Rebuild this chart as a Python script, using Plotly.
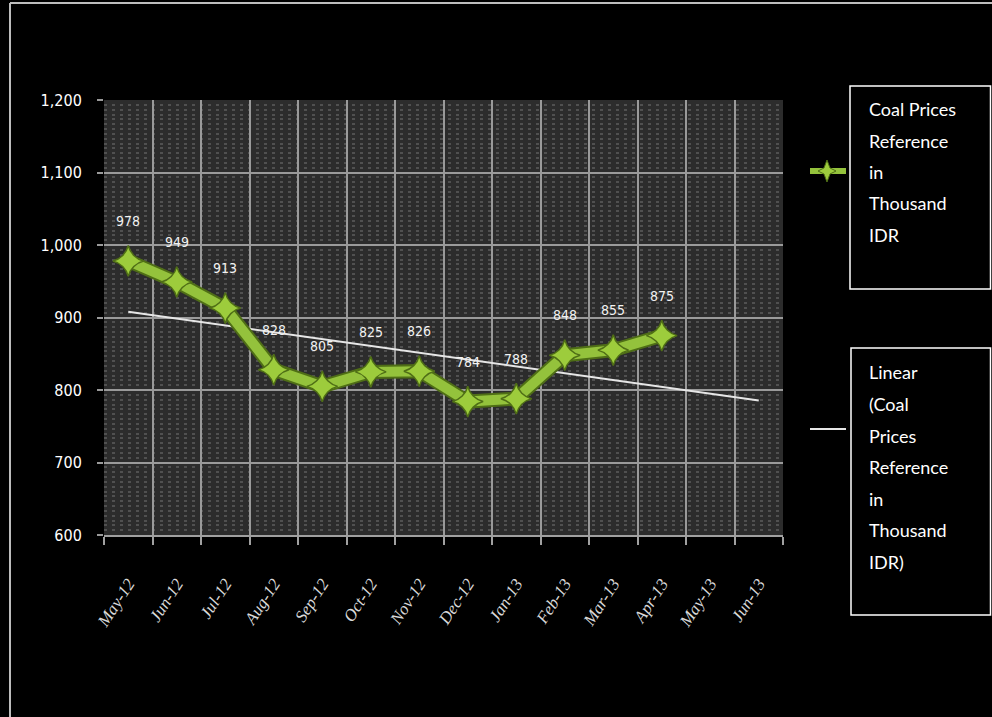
import numpy as np
import plotly.graph_objects as go

months = ["May-12", "Jun-12", "Jul-12", "Aug-12", "Sep-12", "Oct-12", "Nov-12",
          "Dec-12", "Jan-13", "Feb-13", "Mar-13", "Apr-13", "May-13", "Jun-13"]
prices = [978, 949, 913, 828, 805, 825, 826, 784, 788, 848, 855, 875]
y_ticks = [600, 700, 800, 900, 1000, 1100, 1200]
series_name = "Coal Prices Reference in Thousand IDR"
trend_name = "Linear (Coal Prices Reference in Thousand IDR)"

# Excel-style linear trendline, forecast forward 2 periods
idx = np.arange(len(prices))
slope, intercept = np.polyfit(idx, prices, 1)
trend_idx = np.arange(len(months))
trend_vals = slope * trend_idx + intercept

# plot area in pixels
W, H = 992, 717
PL, PR, PT, PB = 104, 783, 100, 535

NARROW = "DejaVu Sans Condensed, Liberation Sans, sans-serif"


def px(x):
    return (x - PL) / (PR - PL)


def py(y):
    return (PB - y) / (PB - PT)


fig = go.Figure()

fig.add_trace(go.Scatter(
    x=months, y=list(trend_vals), mode="lines", name=trend_name,
    line=dict(color="#e6e6e6", width=2), showlegend=False, hoverinfo="skip"))

fig.add_trace(go.Scatter(
    x=months[:len(prices)], y=prices, mode="lines", name=series_name,
    line=dict(color="#4f6e16", width=14), showlegend=False, hoverinfo="skip"))

fig.add_trace(go.Scatter(
    x=months[:len(prices)], y=prices, mode="lines+markers", name=series_name,
    line=dict(color="#94c23c", width=10),
    marker=dict(symbol="star-diamond", size=22, color="#9dcc3c",
                line=dict(color="#4f6e16", width=1.5)),
    showlegend=False))

annotations = []
for m, v in zip(months, prices):
    annotations.append(dict(
        x=m, y=v, xref="x", yref="y", text=f"{v}", showarrow=False,
        yshift=40, font=dict(family=NARROW, size=14, color="#f2f2f2")))

leg1 = ["Coal Prices", "Reference", "in", "Thousand", "IDR"]
leg1_y = [109, 141, 172, 203, 235]
leg2 = ["Linear", "(Coal", "Prices", "Reference", "in", "Thousand", "IDR)"]
leg2_y = [372, 404, 436, 467, 499, 530, 562]
for t, yy in list(zip(leg1, leg1_y)) + list(zip(leg2, leg2_y)):
    annotations.append(dict(
        x=px(867), y=py(yy), xref="paper", yref="paper", text=t, showarrow=False,
        xanchor="left", yanchor="middle",
        font=dict(family="Lato", size=18, color="#ffffff")))

shapes = [
    # outer frame
    dict(type="line", xref="paper", yref="paper", x0=px(10), x1=px(992), y0=py(3), y1=py(3),
         line=dict(color="#bdbdbd", width=2)),
    dict(type="line", xref="paper", yref="paper", x0=px(10), x1=px(10), y0=py(3), y1=py(717),
         line=dict(color="#bdbdbd", width=2)),
    # legend boxes
    dict(type="rect", xref="paper", yref="paper", x0=px(850), x1=px(990.5), y0=py(86), y1=py(289),
         line=dict(color="#ffffff", width=1.5), fillcolor="#000000"),
    dict(type="rect", xref="paper", yref="paper", x0=px(851), x1=px(990.5), y0=py(348), y1=py(615),
         line=dict(color="#ffffff", width=1.5), fillcolor="#000000"),
    # legend key: series
    dict(type="line", xref="paper", yref="paper", x0=px(810), x1=px(846), y0=py(171), y1=py(171),
         line=dict(color="#94c23c", width=6)),
    dict(type="line", xref="paper", yref="paper", x0=px(810), x1=px(846), y0=py(429), y1=py(429),
         line=dict(color="#e6e6e6", width=2)),
]
# star-diamond key marker
cx, cy = 827, 171
pts = [(cx, cy - 11), (cx + 3, cy - 3), (cx + 9, cy), (cx + 3, cy + 3), (cx, cy + 11),
       (cx - 3, cy + 3), (cx - 9, cy), (cx - 3, cy - 3)]
path = "M " + " L ".join(f"{px(a):.5f},{py(b):.5f}" for a, b in pts) + " Z"
shapes.append(dict(type="path", xref="paper", yref="paper", path=path,
                   fillcolor="#9dcc3c", line=dict(color="#4f6e16", width=1)))

fig.update_layout(
    width=W, height=H,
    margin=dict(l=PL, r=W - PR, t=PT, b=H - PB, pad=0),
    paper_bgcolor="#000000",
    plot_bgcolor="#2c2c2c",
    showlegend=False,
    annotations=annotations,
    shapes=shapes,
    xaxis=dict(
        type="category", categoryorder="array", categoryarray=months,
        range=[-0.5, len(months) - 0.5],
        tickson="boundaries", ticks="outside", ticklen=8, tickcolor="#a0a0a0", tickwidth=2,
        showgrid=True, gridcolor="#9a9a9a", gridwidth=2,
        showline=True, linecolor="#a0a0a0", linewidth=2,
        tickangle=-57, ticklabelstandoff=30,
        tickfont=dict(family="Liberation Serif", size=17, color="#d8d8d8", style="italic"),
        zeroline=False,
    ),
    yaxis=dict(
        range=[600, 1200], tickvals=y_ticks,
        ticktext=[f"{v:,}" for v in y_ticks],
        ticks="outside", ticklen=6, tickcolor="#9a9a9a", tickwidth=2,
        showgrid=True, gridcolor="#9a9a9a", gridwidth=2,
        showline=False, zeroline=False,
        ticklabelstandoff=12,
        tickfont=dict(family=NARROW, size=16, color="#ffffff"),
        minor=dict(dtick=100 / 15, showgrid=True, gridcolor="#505050", gridwidth=2,
                   griddash="3px,5px", ticks=""),
    ),
)

fig.write_html("out.html")
